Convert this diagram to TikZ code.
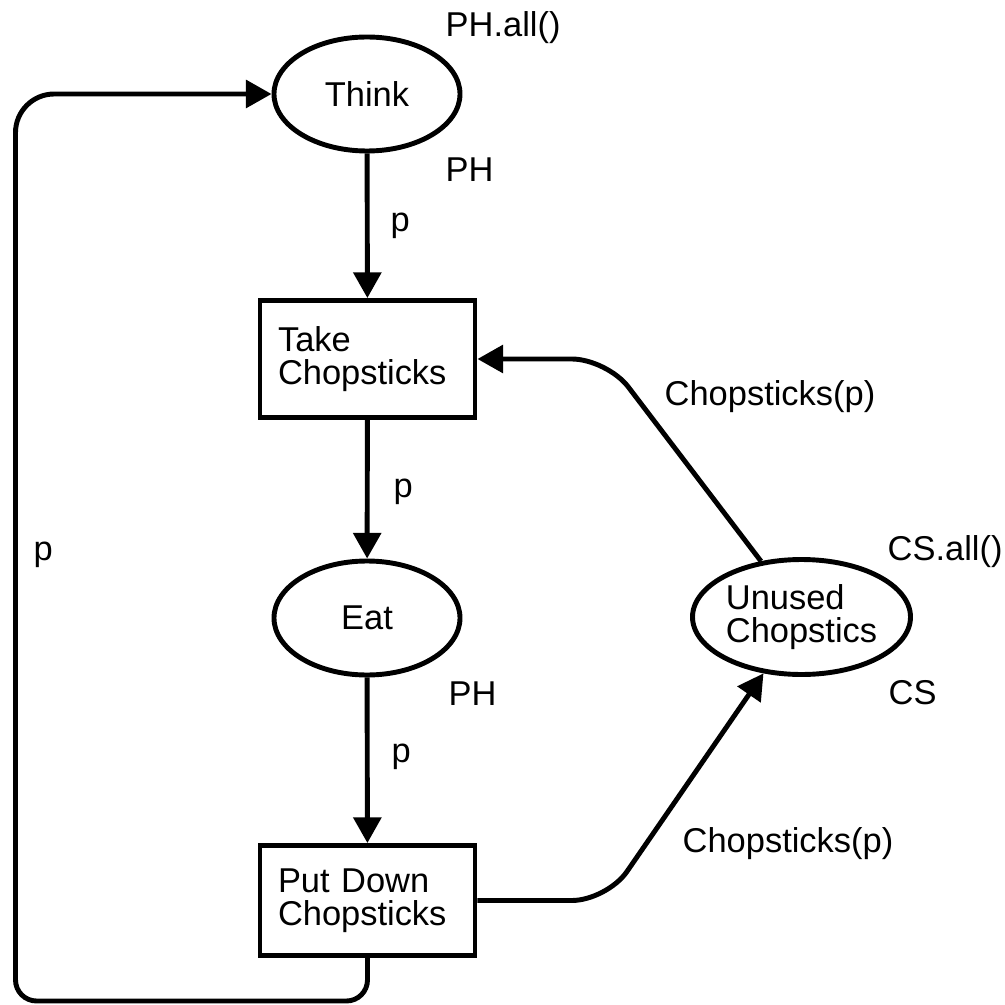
\documentclass[tikz,border=0pt]{standalone}
\usepackage{fontspec}
\setmainfont{Liberation Sans}
\usetikzlibrary{shapes.geometric, arrows.meta, calc}

\begin{document}
\begin{tikzpicture}[
    place/.style={draw, ellipse, line width=1.4pt, inner sep=0pt, align=left},
    trans/.style={draw, rectangle, line width=1.4pt, inner xsep=0.18cm, text width=1.79cm, align=left},
    flow/.style={line width=1.4pt, -{Triangle[length=7.3pt,width=7.8pt]}},
    lbl/.style={anchor=base west, inner sep=0pt},
    font=\fontsize{9.8}{9.3}\selectfont]
      \useasboundingbox (0,0) rectangle (10.05,-10.05);

      % places and transitions
      \node[place, minimum width=1.86cm, minimum height=1.14cm] (think) at (3.67,-0.94) {Think};
      \node[trans, minimum height=1.17cm] (take) at (3.675,-3.59) {Take\\Chopsticks};
      \node[place, minimum width=1.86cm, minimum height=1.14cm] (eat) at (3.67,-6.18) {Eat};
      \node[trans, minimum height=1.10cm] (putdown) at (3.675,-9.005) {Put Down\\Chopsticks};
      \node[place, minimum width=2.18cm, minimum height=1.15cm] (unused) at (8.015,-6.17) {Unused\\Chopstics};

      % bends of the arcs
      \coordinate (highbend) at (6.07,-3.59);
      \coordinate (lowbend) at (6.07,-9.005);
      \coordinate (loopleft) at (0.155,-10.01);

      % arcs
      \draw[flow] (think) -- (take);
      \draw[flow] (take) -- (eat);
      \draw[flow] (eat) -- (putdown);
      \draw[flow, rounded corners=10pt] (putdown.east) -- (lowbend) -- (unused.236);
      \draw[flow, rounded corners=10pt] (unused.126) -- (highbend) -- (take.east);
      \draw[flow] (putdown.south) [rounded corners=6pt] |- (loopleft) [rounded corners=11pt] |- (think.west);

      % inscriptions
      \node[lbl] (thinkinit) at (4.45,-0.37) {PH.all()};
      \node[lbl] (thinktype) at (4.45,-1.82) {PH};
      \node[lbl] (eattype) at (4.48,-7.05) {PH};
      \node[lbl] (unusedinit) at (8.87,-5.60) {CS.all()};
      \node[lbl] (unusedtype) at (8.88,-7.04) {CS};
      \node[lbl] (pone) at (3.90,-2.32) {p};
      \node[lbl] (ptwo) at (3.93,-4.97) {p};
      \node[lbl] (pthree) at (3.91,-7.62) {p};
      \node[lbl] (ploop) at (0.33,-5.60) {p};
      \node[lbl] (cstake) at (6.64,-4.05) {Chopsticks(p)};
      \node[lbl] (csput) at (6.82,-8.52) {Chopsticks(p)};
\end{tikzpicture}
\end{document}
